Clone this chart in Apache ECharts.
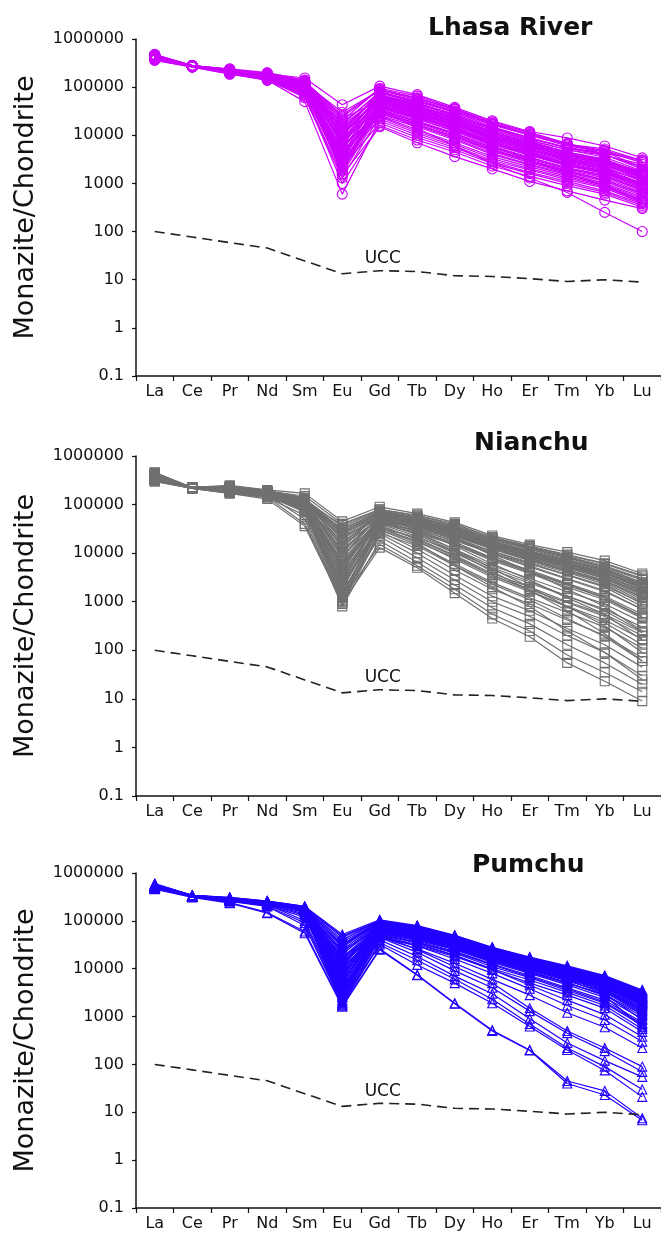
<!DOCTYPE html>
<html>
<head>
<meta charset="utf-8">
<script src="https://cdn.jsdelivr.net/npm/echarts@6/dist/echarts.min.js"></script>
<style>
  html, body { margin: 0; padding: 0; background: #fff; }
  #chart { width: 661px; height: 1233px; }
</style>
</head>
<body>
<div id="chart"></div>
<script>
// Rare earth elements, chondrite-normalised
const elements = ['La', 'Ce', 'Pr', 'Nd', 'Sm', 'Eu', 'Gd', 'Tb', 'Dy', 'Ho', 'Er', 'Tm', 'Yb', 'Lu'];
const yTickLabels = ['0.1', '1', '10', '100', '1000', '10000', '100000', '1000000'];
const panelTitles = ['Lhasa River', 'Nianchu', 'Pumchu'];
const yAxisName = 'Monazite/Chondrite';

// Upper continental crust reference pattern
const ucc = [100, 77, 59, 45.5, 24.5, 13.3, 15.4, 14.8, 12.1, 11.7, 10.5, 9.2, 10, 8.9];
const uccLabel = 'UCC';

// Detrital monazite grains, Lhasa River
const lhasaRiver = [
  [4.5e5, 2.8e5, 2.3e5, 1.9e5, 1.55e5, 4.3e4, 1.05e5, 7.0e4, 3.8e4, 2.0e4, 1.2e4, 8.8e3, 6.0e3, 3.4e3],
  [4.2e5, 2.7e5, 2.2e5, 1.8e5, 1.3e5, 2.6e4, 9.0e4, 6.0e4, 3.5e4, 1.8e4, 1.1e4, 6.5e3, 5.2e3, 3.0e3],
  [4.0e5, 2.7e5, 2.1e5, 1.7e5, 1.2e5, 3.0e4, 8.5e4, 5.5e4, 3.2e4, 1.7e4, 1.0e4, 6.0e3, 4.5e3, 2.2e3],
  [4.8e5, 2.8e5, 2.4e5, 2.0e5, 1.4e5, 1.2e4, 8.0e4, 5.0e4, 3.0e4, 1.5e4, 9.0e3, 5.5e3, 4.0e3, 2.0e3],
  [3.8e5, 2.7e5, 2.0e5, 1.6e5, 1.1e5, 8.0e3, 7.0e4, 4.5e4, 2.8e4, 1.4e4, 8.0e3, 5.0e3, 3.5e3, 1.8e3],
  [4.4e5, 2.75e5, 2.2e5, 1.75e5, 1.25e5, 1.8e4, 7.5e4, 4.8e4, 2.6e4, 1.3e4, 7.5e3, 4.5e3, 3.2e3, 1.6e3],
  [4.6e5, 2.8e5, 2.3e5, 1.85e5, 1.35e5, 6.0e3, 6.5e4, 4.2e4, 2.4e4, 1.2e4, 7.0e3, 4.2e3, 3.0e3, 1.5e3],
  [3.9e5, 2.7e5, 2.1e5, 1.6e5, 1.0e5, 4.0e3, 6.0e4, 3.8e4, 2.2e4, 1.1e4, 6.5e3, 4.0e3, 2.8e3, 1.4e3],
  [4.1e5, 2.7e5, 2.15e5, 1.65e5, 1.15e5, 1.0e4, 5.8e4, 3.6e4, 2.0e4, 1.0e4, 6.0e3, 3.6e3, 2.6e3, 1.3e3],
  [4.3e5, 2.75e5, 2.25e5, 1.8e5, 1.2e5, 3.0e3, 5.5e4, 3.4e4, 1.9e4, 9.5e3, 5.5e3, 3.4e3, 2.4e3, 1.2e3],
  [3.7e5, 2.65e5, 1.9e5, 1.5e5, 9.0e4, 5.0e3, 5.0e4, 3.2e4, 1.8e4, 9.0e3, 5.2e3, 3.2e3, 2.2e3, 1.1e3],
  [4.7e5, 2.8e5, 2.35e5, 1.9e5, 1.3e5, 2.2e4, 5.2e4, 3.0e4, 1.7e4, 8.5e3, 5.0e3, 3.0e3, 2.0e3, 1.0e3],
  [4.0e5, 2.7e5, 2.05e5, 1.55e5, 8.0e4, 2.5e3, 4.8e4, 2.8e4, 1.6e4, 8.0e3, 4.6e3, 2.8e3, 1.9e3, 950],
  [4.2e5, 2.7e5, 2.15e5, 1.7e5, 1.1e5, 1.5e4, 4.5e4, 2.6e4, 1.5e4, 7.5e3, 4.3e3, 2.6e3, 1.8e3, 900],
  [3.6e5, 2.6e5, 1.85e5, 1.4e5, 7.0e4, 2.0e3, 4.2e4, 2.5e4, 1.4e4, 7.0e3, 4.0e3, 2.4e3, 1.7e3, 850],
  [4.5e5, 2.8e5, 2.25e5, 1.75e5, 1.15e5, 7.0e3, 4.0e4, 2.4e4, 1.3e4, 6.5e3, 3.8e3, 2.3e3, 1.6e3, 800],
  [4.1e5, 2.7e5, 2.1e5, 1.6e5, 9.5e4, 3.5e3, 3.8e4, 2.2e4, 1.2e4, 6.0e3, 3.5e3, 2.1e3, 1.5e3, 750],
  [3.8e5, 2.65e5, 2.0e5, 1.5e5, 8.5e4, 1.2e4, 3.5e4, 2.0e4, 1.1e4, 5.5e3, 3.2e3, 2.0e3, 1.4e3, 700],
  [4.4e5, 2.75e5, 2.2e5, 1.7e5, 1.05e5, 5.5e3, 3.3e4, 1.9e4, 1.05e4, 5.2e3, 3.0e3, 1.9e3, 1.3e3, 650],
  [4.0e5, 2.7e5, 2.0e5, 1.55e5, 9.0e4, 1.6e3, 3.0e4, 1.8e4, 1.0e4, 5.0e3, 2.9e3, 1.8e3, 1.2e3, 600],
  [4.6e5, 2.8e5, 2.3e5, 1.8e5, 1.2e5, 9.0e3, 3.2e4, 1.7e4, 9.0e3, 4.6e3, 2.7e3, 1.7e3, 1.1e3, 560],
  [3.9e5, 2.7e5, 2.0e5, 1.5e5, 7.5e4, 2.8e3, 2.8e4, 1.6e4, 8.5e3, 4.2e3, 2.5e3, 1.6e3, 1.0e3, 520],
  [4.3e5, 2.7e5, 2.1e5, 1.65e5, 1.0e5, 4.5e3, 2.6e4, 1.5e4, 8.0e3, 4.0e3, 2.4e3, 1.5e3, 950, 480],
  [3.7e5, 2.65e5, 1.95e5, 1.45e5, 6.0e4, 1.3e3, 2.5e4, 1.3e4, 7.0e3, 3.6e3, 2.2e3, 1.4e3, 900, 450],
  [4.5e5, 2.8e5, 2.2e5, 1.7e5, 1.1e5, 6.5e3, 2.4e4, 1.2e4, 6.5e3, 3.3e3, 2.0e3, 1.3e3, 850, 420],
  [4.1e5, 2.7e5, 2.1e5, 1.6e5, 9.0e4, 3.2e3, 2.2e4, 1.1e4, 6.0e3, 3.0e3, 1.9e3, 1.2e3, 800, 400],
  [3.8e5, 2.65e5, 1.9e5, 1.4e5, 5.0e4, 600, 2.0e4, 1.0e4, 5.5e3, 2.8e3, 1.7e3, 1.1e3, 700, 380],
  [4.2e5, 2.7e5, 2.1e5, 1.55e5, 8.0e4, 2.2e3, 1.8e4, 9.0e3, 5.0e3, 2.6e3, 1.6e3, 1.0e3, 650, 350],
  [4.0e5, 2.7e5, 2.0e5, 1.5e5, 7.0e4, 1.0e3, 1.6e4, 8.0e3, 4.5e3, 2.3e3, 1.4e3, 900, 600, 320],
  [3.9e5, 2.7e5, 1.95e5, 1.4e5, 6.5e4, 1.5e3, 1.5e4, 7.0e3, 3.6e3, 2.0e3, 1.1e3, 700, 450, 300],
  [4.4e5, 2.75e5, 2.2e5, 1.7e5, 1.1e5, 1.1e4, 6.0e4, 3.0e4, 1.5e4, 6.0e3, 3.0e3, 1.6e3, 900, 420],
  [4.2e5, 2.75e5, 2.15e5, 1.65e5, 1.0e5, 1.8e3, 3.5e4, 1.4e4, 6.0e3, 2.6e3, 1.3e3, 650, 250, 100],
  [4.6e5, 2.8e5, 2.3e5, 1.9e5, 1.3e5, 2.0e4, 9.5e4, 6.5e4, 3.6e4, 1.9e4, 1.15e4, 6.8e3, 4.0e3, 2.0e3],
  [4.3e5, 2.75e5, 2.2e5, 1.75e5, 1.2e5, 1.4e4, 7.0e4, 4.0e4, 2.4e4, 1.3e4, 7.8e3, 5.0e3, 3.8e3, 2.5e3],
  [4.0e5, 2.7e5, 2.1e5, 1.6e5, 1.05e5, 3.8e3, 4.5e4, 2.8e4, 1.7e4, 9.0e3, 5.8e3, 3.8e3, 2.9e3, 1.7e3],
  [3.8e5, 2.65e5, 2.0e5, 1.55e5, 9.5e4, 2.4e3, 4.0e4, 2.3e4, 1.4e4, 7.8e3, 4.8e3, 3.2e3, 2.4e3, 1.4e3],
  [4.5e5, 2.8e5, 2.25e5, 1.8e5, 1.25e5, 1.7e4, 8.0e4, 4.6e4, 2.5e4, 1.4e4, 8.5e3, 5.6e3, 4.2e3, 3.1e3],
  [4.1e5, 2.7e5, 2.15e5, 1.65e5, 1.05e5, 7.5e3, 5.5e4, 2.6e4, 1.3e4, 7.0e3, 4.5e3, 2.9e3, 2.0e3, 1.2e3],
  [4.3e5, 2.7e5, 2.2e5, 1.7e5, 1.15e5, 5.0e3, 6.2e4, 4.0e4, 2.3e4, 1.2e4, 7.2e3, 4.4e3, 3.1e3, 1.7e3],
  [4.0e5, 2.7e5, 2.05e5, 1.6e5, 1.0e5, 3.0e3, 5.0e4, 3.1e4, 1.85e4, 9.5e3, 5.8e3, 3.6e3, 2.5e3, 1.45e3],
  [4.6e5, 2.8e5, 2.3e5, 1.85e5, 1.3e5, 9.5e3, 6.8e4, 4.4e4, 2.7e4, 1.45e4, 8.8e3, 5.4e3, 3.9e3, 2.2e3],
  [3.9e5, 2.65e5, 2.0e5, 1.55e5, 9.0e4, 2.0e3, 4.4e4, 2.7e4, 1.6e4, 8.3e3, 5.0e3, 3.1e3, 2.1e3, 1.15e3],
  [4.4e5, 2.75e5, 2.2e5, 1.75e5, 1.2e5, 6.8e3, 5.6e4, 3.5e4, 2.05e4, 1.05e4, 6.3e3, 3.9e3, 2.7e3, 1.5e3],
  [4.2e5, 2.7e5, 2.15e5, 1.65e5, 1.1e5, 4.2e3, 3.7e4, 2.15e4, 1.25e4, 6.4e3, 3.9e3, 2.4e3, 1.65e3, 880],
  [3.8e5, 2.65e5, 1.95e5, 1.5e5, 8.5e4, 2.7e3, 3.4e4, 1.9e4, 1.1e4, 5.6e3, 3.4e3, 2.1e3, 1.4e3, 760],
  [4.5e5, 2.8e5, 2.25e5, 1.8e5, 1.25e5, 1.1e4, 7.8e4, 5.2e4, 3.1e4, 1.65e4, 1.0e4, 6.3e3, 4.6e3, 2.7e3],
  [4.1e5, 2.7e5, 2.1e5, 1.6e5, 1.05e5, 1.35e4, 6.6e4, 3.9e4, 2.2e4, 1.15e4, 6.8e3, 4.1e3, 2.8e3, 1.55e3],
  [4.3e5, 2.75e5, 2.2e5, 1.7e5, 1.15e5, 3.4e3, 4.7e4, 2.9e4, 1.75e4, 9.0e3, 5.4e3, 3.3e3, 2.3e3, 1.3e3],
  [3.9e5, 2.7e5, 2.0e5, 1.55e5, 9.5e4, 1.9e3, 3.9e4, 2.3e4, 1.35e4, 6.9e3, 4.1e3, 2.5e3, 1.7e3, 950],
  [4.7e5, 2.8e5, 2.35e5, 1.9e5, 1.35e5, 2.4e4, 8.8e4, 5.8e4, 3.4e4, 1.75e4, 1.05e4, 6.6e3, 4.8e3, 2.9e3],
  [4.0e5, 2.7e5, 2.05e5, 1.6e5, 1.0e5, 8.5e3, 5.3e4, 3.3e4, 1.95e4, 1.0e4, 6.1e3, 3.8e3, 2.7e3, 1.6e3],
  [4.4e5, 2.75e5, 2.2e5, 1.75e5, 1.15e5, 1.6e4, 6.3e4, 3.7e4, 2.1e4, 1.1e4, 6.6e3, 4.0e3, 2.9e3, 1.75e3],
  [4.2e5, 2.7e5, 2.15e5, 1.65e5, 1.05e5, 2.9e3, 2.9e4, 1.65e4, 9.5e3, 4.8e3, 2.9e3, 1.8e3, 1.15e3, 620],
  [3.7e5, 2.65e5, 1.9e5, 1.45e5, 8.0e4, 2.3e3, 4.1e4, 2.4e4, 1.45e4, 7.3e3, 4.3e3, 2.6e3, 1.8e3, 1.0e3]
];

// Detrital monazite grains, Nianchu
const nianchu = [
  [4.4e5, 2.25e5, 2.5e5, 2.0e5, 1.7e5, 4.5e4, 9.0e4, 6.5e4, 4.3e4, 2.3e4, 1.5e4, 1.05e4, 7.0e3, 3.8e3],
  [4.0e5, 2.2e5, 2.3e5, 1.9e5, 1.5e5, 4.0e4, 8.0e4, 6.0e4, 4.0e4, 2.1e4, 1.35e4, 9.0e3, 6.0e3, 3.3e3],
  [3.8e5, 2.2e5, 2.1e5, 1.8e5, 1.3e5, 3.5e4, 7.5e4, 5.5e4, 3.6e4, 2.0e4, 1.25e4, 8.0e3, 5.0e3, 2.8e3],
  [4.2e5, 2.25e5, 2.2e5, 1.85e5, 1.25e5, 2.8e4, 7.0e4, 5.2e4, 3.4e4, 1.9e4, 1.2e4, 7.5e3, 4.8e3, 2.5e3],
  [3.5e5, 2.2e5, 2.0e5, 1.7e5, 1.2e5, 2.2e4, 6.5e4, 5.0e4, 3.2e4, 1.8e4, 1.1e4, 7.0e3, 4.5e3, 2.2e3],
  [3.3e5, 2.2e5, 1.9e5, 1.6e5, 1.1e5, 1.7e4, 6.0e4, 4.6e4, 3.0e4, 1.7e4, 1.05e4, 6.5e3, 4.0e3, 2.0e3],
  [4.6e5, 2.25e5, 2.4e5, 1.95e5, 1.4e5, 1.3e4, 7.0e4, 5.0e4, 3.0e4, 1.6e4, 1.0e4, 6.2e3, 3.8e3, 1.8e3],
  [3.9e5, 2.2e5, 2.1e5, 1.75e5, 1.2e5, 1.0e4, 6.0e4, 4.4e4, 2.8e4, 1.5e4, 9.0e3, 5.8e3, 3.6e3, 1.6e3],
  [3.6e5, 2.2e5, 2.0e5, 1.6e5, 1.05e5, 7.0e3, 5.5e4, 4.2e4, 2.6e4, 1.45e4, 8.5e3, 5.2e3, 3.2e3, 1.5e3],
  [3.2e5, 2.15e5, 1.8e5, 1.5e5, 1.0e5, 5.0e3, 5.0e4, 4.0e4, 2.5e4, 1.4e4, 8.0e3, 5.0e3, 3.0e3, 1.3e3],
  [4.1e5, 2.25e5, 2.2e5, 1.8e5, 1.15e5, 3.5e3, 5.5e4, 3.8e4, 2.4e4, 1.3e4, 7.5e3, 4.5e3, 2.8e3, 1.2e3],
  [3.7e5, 2.2e5, 2.0e5, 1.65e5, 1.0e5, 2.5e3, 5.0e4, 3.6e4, 2.2e4, 1.2e4, 7.0e3, 4.2e3, 2.5e3, 1.0e3],
  [3.4e5, 2.2e5, 1.9e5, 1.55e5, 9.0e4, 1.8e3, 4.5e4, 3.3e4, 2.0e4, 1.1e4, 6.5e3, 4.0e3, 2.3e3, 900],
  [3.0e5, 2.15e5, 1.7e5, 1.4e5, 8.0e4, 1.2e3, 4.0e4, 3.0e4, 1.8e4, 1.0e4, 6.0e3, 3.5e3, 2.0e3, 800],
  [4.3e5, 2.25e5, 2.3e5, 1.9e5, 1.3e5, 8.5e3, 6.5e4, 4.5e4, 2.9e4, 1.6e4, 9.5e3, 6.0e3, 3.5e3, 1.7e3],
  [3.8e5, 2.2e5, 2.1e5, 1.7e5, 1.1e5, 2.0e4, 5.5e4, 3.5e4, 2.0e4, 1.0e4, 5.5e3, 3.0e3, 1.7e3, 700],
  [3.5e5, 2.2e5, 2.0e5, 1.6e5, 9.5e4, 1.5e4, 5.0e4, 3.2e4, 1.7e4, 8.0e3, 4.5e3, 2.4e3, 1.3e3, 550],
  [4.0e5, 2.2e5, 2.15e5, 1.75e5, 1.1e5, 9.0e3, 4.5e4, 2.8e4, 1.5e4, 7.0e3, 3.8e3, 2.0e3, 1.1e3, 450],
  [3.6e5, 2.2e5, 2.0e5, 1.6e5, 9.0e4, 6.0e3, 4.2e4, 2.5e4, 1.2e4, 5.5e3, 3.0e3, 1.6e3, 900, 380],
  [3.3e5, 2.2e5, 1.85e5, 1.5e5, 8.5e4, 4.0e3, 4.0e4, 2.2e4, 1.0e4, 4.5e3, 2.4e3, 1.3e3, 700, 300],
  [4.2e5, 2.25e5, 2.2e5, 1.8e5, 1.0e5, 3.0e3, 3.5e4, 2.0e4, 9.0e3, 3.8e3, 2.0e3, 1.0e3, 550, 230],
  [3.9e5, 2.2e5, 2.1e5, 1.7e5, 9.0e4, 2.2e3, 3.2e4, 1.8e4, 7.5e3, 3.2e3, 1.6e3, 800, 420, 170],
  [3.7e5, 2.2e5, 2.0e5, 1.6e5, 8.0e4, 1.5e3, 3.0e4, 1.5e4, 6.0e3, 2.5e3, 1.2e3, 600, 300, 110],
  [3.4e5, 2.2e5, 1.9e5, 1.5e5, 7.0e4, 1.0e3, 2.8e4, 1.2e4, 4.5e3, 1.8e3, 900, 420, 200, 70],
  [3.1e5, 2.15e5, 1.75e5, 1.4e5, 6.0e4, 900, 2.5e4, 1.0e4, 3.5e3, 1.3e3, 650, 280, 130, 45],
  [4.0e5, 2.2e5, 2.1e5, 1.7e5, 7.5e4, 1.3e3, 2.2e4, 8.0e3, 2.8e3, 1.0e3, 500, 200, 90, 30],
  [3.6e5, 2.2e5, 2.0e5, 1.6e5, 5.0e4, 800, 1.8e4, 6.5e3, 2.2e3, 750, 350, 130, 55, 20],
  [3.2e5, 2.2e5, 1.8e5, 1.45e5, 4.0e4, 1.1e3, 1.5e4, 5.5e3, 1.8e3, 550, 250, 80, 35, 14],
  [3.0e5, 2.15e5, 1.7e5, 1.3e5, 3.6e4, 950, 1.3e4, 5.0e3, 1.5e3, 450, 190, 55, 23, 9],
  [4.1e5, 2.25e5, 2.2e5, 1.75e5, 1.2e5, 2.6e4, 6.0e4, 3.8e4, 2.1e4, 9.0e3, 4.2e3, 1.8e3, 800, 250],
  [3.8e5, 2.2e5, 2.1e5, 1.7e5, 1.05e5, 1.2e4, 5.2e4, 3.0e4, 1.4e4, 6.0e3, 2.8e3, 1.2e3, 550, 160],
  [3.5e5, 2.2e5, 2.0e5, 1.6e5, 9.5e4, 5.5e3, 4.8e4, 2.7e4, 1.2e4, 4.8e3, 2.0e3, 800, 320, 90],
  [3.9e5, 2.2e5, 2.15e5, 1.7e5, 1.1e5, 3.2e4, 7.0e4, 5.5e4, 3.5e4, 2.0e4, 1.3e4, 8.5e3, 5.5e3, 3.0e3],
  [4.3e5, 2.25e5, 2.25e5, 1.85e5, 1.3e5, 2.4e4, 6.8e4, 4.8e4, 3.2e4, 1.75e4, 1.1e4, 7.2e3, 4.6e3, 2.4e3],
  [3.7e5, 2.2e5, 2.05e5, 1.65e5, 1.15e5, 1.6e4, 5.8e4, 4.2e4, 2.7e4, 1.5e4, 9.5e3, 6.0e3, 3.8e3, 2.0e3],
  [3.3e5, 2.2e5, 1.9e5, 1.55e5, 1.0e5, 6.5e3, 5.0e4, 3.8e4, 2.4e4, 1.35e4, 8.5e3, 5.3e3, 3.4e3, 1.6e3],
  [4.5e5, 2.25e5, 2.35e5, 1.9e5, 1.35e5, 4.2e3, 6.0e4, 4.4e4, 2.8e4, 1.5e4, 9.0e3, 5.5e3, 3.2e3, 1.4e3],
  [3.6e5, 2.2e5, 2.0e5, 1.65e5, 1.1e5, 2.8e3, 5.3e4, 3.6e4, 2.2e4, 1.25e4, 7.5e3, 4.6e3, 2.7e3, 1.1e3],
  [4.0e5, 2.2e5, 2.1e5, 1.7e5, 9.5e4, 1.4e3, 4.2e4, 2.6e4, 1.5e4, 7.5e3, 4.0e3, 2.2e3, 1.2e3, 500],
  [3.4e5, 2.2e5, 1.9e5, 1.55e5, 8.5e4, 1.9e3, 3.8e4, 1.9e4, 8.5e3, 3.5e3, 1.8e3, 950, 500, 200],
  [3.8e5, 2.2e5, 2.1e5, 1.7e5, 1.0e5, 3.8e3, 4.4e4, 2.4e4, 1.1e4, 4.2e3, 1.7e3, 650, 220, 60],
  [3.5e5, 2.2e5, 2.0e5, 1.6e5, 8.0e4, 2.4e3, 3.6e4, 1.6e4, 5.5e3, 2.0e3, 800, 250, 90, 25],
  [4.1e5, 2.2e5, 2.2e5, 1.8e5, 1.2e5, 1.9e4, 6.3e4, 4.7e4, 3.1e4, 1.7e4, 1.08e4, 6.8e3, 4.3e3, 2.3e3],
  [3.6e5, 2.2e5, 2.0e5, 1.65e5, 1.1e5, 1.1e4, 5.7e4, 4.3e4, 2.8e4, 1.55e4, 9.8e3, 6.2e3, 3.9e3, 1.9e3],
  [3.9e5, 2.2e5, 2.1e5, 1.7e5, 1.15e5, 8.0e3, 6.2e4, 4.6e4, 2.95e4, 1.65e4, 1.02e4, 6.4e3, 4.1e3, 2.1e3],
  [4.4e5, 2.25e5, 2.3e5, 1.9e5, 1.3e5, 3.0e4, 7.3e4, 5.4e4, 3.5e4, 1.95e4, 1.25e4, 8.2e3, 5.2e3, 2.9e3],
  [3.5e5, 2.2e5, 1.95e5, 1.6e5, 1.0e5, 4.6e3, 5.2e4, 3.9e4, 2.5e4, 1.4e4, 8.8e3, 5.5e3, 3.5e3, 1.7e3],
  [3.2e5, 2.15e5, 1.8e5, 1.5e5, 9.5e4, 3.2e3, 4.8e4, 3.5e4, 2.3e4, 1.28e4, 7.8e3, 4.9e3, 3.0e3, 1.45e3],
  [4.0e5, 2.2e5, 2.15e5, 1.75e5, 1.2e5, 2.1e4, 5.6e4, 3.9e4, 2.4e4, 1.25e4, 7.2e3, 4.3e3, 2.6e3, 1.25e3],
  [3.7e5, 2.2e5, 2.0e5, 1.65e5, 1.05e5, 1.4e4, 5.2e4, 3.6e4, 2.1e4, 1.08e4, 6.2e3, 3.6e3, 2.1e3, 950],
  [4.2e5, 2.25e5, 2.2e5, 1.8e5, 1.1e5, 6.0e3, 4.9e4, 3.3e4, 1.9e4, 9.5e3, 5.2e3, 2.9e3, 1.6e3, 700],
  [3.4e5, 2.2e5, 1.9e5, 1.55e5, 9.0e4, 2.0e3, 4.4e4, 2.9e4, 1.6e4, 7.8e3, 4.2e3, 2.3e3, 1.2e3, 480],
  [3.8e5, 2.2e5, 2.1e5, 1.7e5, 1.0e5, 1.05e3, 3.4e4, 2.1e4, 1.1e4, 5.0e3, 2.6e3, 1.3e3, 650, 240],
  [3.6e5, 2.2e5, 2.0e5, 1.6e5, 8.5e4, 1.6e3, 3.0e4, 1.7e4, 8.0e3, 3.5e3, 1.7e3, 780, 370, 130],
  [4.0e5, 2.2e5, 2.15e5, 1.75e5, 1.15e5, 3.8e4, 7.8e4, 5.9e4, 3.8e4, 2.15e4, 1.4e4, 9.3e3, 6.2e3, 3.5e3],
  [3.5e5, 2.2e5, 1.95e5, 1.6e5, 1.05e5, 2.7e4, 6.6e4, 4.9e4, 3.15e4, 1.75e4, 1.1e4, 7.0e3, 4.4e3, 2.2e3],
  [3.3e5, 2.2e5, 1.85e5, 1.5e5, 7.5e4, 1.2e3, 2.6e4, 1.4e4, 5.5e3, 2.3e3, 1.1e3, 450, 190, 60]
];

// Detrital monazite grains, Pumchu
const pumchu = [
  [6.0e5, 3.4e5, 3.1e5, 2.6e5, 2.0e5, 5.2e4, 1.05e5, 8.0e4, 5.0e4, 2.8e4, 1.75e4, 1.15e4, 7.2e3, 3.6e3],
  [5.6e5, 3.3e5, 3.0e5, 2.5e5, 1.9e5, 4.0e4, 1.0e5, 7.5e4, 4.8e4, 2.7e4, 1.65e4, 1.05e4, 6.8e3, 3.3e3],
  [5.3e5, 3.3e5, 2.9e5, 2.45e5, 1.8e5, 3.2e4, 9.5e4, 7.0e4, 4.5e4, 2.5e4, 1.55e4, 1.0e4, 6.3e3, 3.0e3],
  [5.0e5, 3.2e5, 2.8e5, 2.4e5, 1.7e5, 2.5e4, 9.0e4, 6.5e4, 4.2e4, 2.4e4, 1.45e4, 9.2e3, 5.8e3, 2.7e3],
  [5.5e5, 3.3e5, 2.95e5, 2.5e5, 1.85e5, 2.0e4, 8.5e4, 6.2e4, 4.0e4, 2.2e4, 1.35e4, 8.5e3, 5.4e3, 2.4e3],
  [5.8e5, 3.4e5, 3.0e5, 2.55e5, 1.95e5, 1.5e4, 8.0e4, 6.0e4, 3.8e4, 2.1e4, 1.3e4, 8.0e3, 5.0e3, 2.2e3],
  [5.2e5, 3.3e5, 2.85e5, 2.4e5, 1.75e5, 1.2e4, 7.5e4, 5.6e4, 3.6e4, 2.0e4, 1.2e4, 7.5e3, 4.6e3, 2.0e3],
  [4.9e5, 3.2e5, 2.75e5, 2.3e5, 1.6e5, 9.0e3, 7.0e4, 5.2e4, 3.4e4, 1.9e4, 1.15e4, 7.0e3, 4.2e3, 1.8e3],
  [5.4e5, 3.3e5, 2.9e5, 2.45e5, 1.8e5, 7.0e3, 7.5e4, 5.5e4, 3.5e4, 1.95e4, 1.2e4, 7.2e3, 4.4e3, 1.9e3],
  [5.7e5, 3.4e5, 3.0e5, 2.5e5, 1.9e5, 5.5e3, 8.0e4, 5.8e4, 3.7e4, 2.0e4, 1.25e4, 7.8e3, 4.8e3, 2.1e3],
  [5.1e5, 3.3e5, 2.8e5, 2.35e5, 1.7e5, 4.5e3, 7.0e4, 5.0e4, 3.2e4, 1.8e4, 1.1e4, 6.6e3, 3.9e3, 1.6e3],
  [4.8e5, 3.2e5, 2.7e5, 2.3e5, 1.6e5, 3.5e3, 6.5e4, 4.6e4, 3.0e4, 1.7e4, 1.0e4, 6.0e3, 3.5e3, 1.4e3],
  [5.5e5, 3.3e5, 2.95e5, 2.5e5, 1.85e5, 2.8e3, 6.8e4, 4.8e4, 3.1e4, 1.75e4, 1.05e4, 6.3e3, 3.7e3, 1.5e3],
  [5.3e5, 3.3e5, 2.9e5, 2.4e5, 1.75e5, 2.2e3, 6.0e4, 4.4e4, 2.8e4, 1.6e4, 9.5e3, 5.6e3, 3.2e3, 1.2e3],
  [5.0e5, 3.2e5, 2.8e5, 2.35e5, 1.65e5, 1.8e4, 6.2e4, 4.2e4, 2.6e4, 1.45e4, 8.5e3, 5.0e3, 2.8e3, 1.0e3],
  [5.6e5, 3.3e5, 2.95e5, 2.5e5, 1.8e5, 1.3e4, 5.8e4, 4.0e4, 2.5e4, 1.35e4, 8.0e3, 4.6e3, 2.5e3, 900],
  [5.2e5, 3.3e5, 2.85e5, 2.4e5, 1.7e5, 1.0e4, 5.5e4, 3.8e4, 2.3e4, 1.25e4, 7.2e3, 4.0e3, 2.2e3, 750],
  [4.9e5, 3.2e5, 2.75e5, 2.3e5, 1.55e5, 8.0e3, 5.0e4, 3.5e4, 2.1e4, 1.1e4, 6.5e3, 3.5e3, 1.9e3, 650],
  [5.4e5, 3.3e5, 2.9e5, 2.45e5, 1.75e5, 6.0e3, 5.2e4, 3.6e4, 2.2e4, 1.2e4, 6.8e3, 3.8e3, 2.0e3, 700],
  [5.1e5, 3.3e5, 2.8e5, 2.35e5, 1.6e5, 4.0e3, 4.8e4, 3.2e4, 1.9e4, 1.0e4, 5.8e3, 3.2e3, 1.7e3, 550],
  [4.7e5, 3.2e5, 2.7e5, 2.25e5, 1.5e5, 3.0e3, 4.5e4, 3.0e4, 1.8e4, 9.5e3, 5.0e3, 2.8e3, 1.5e3, 480],
  [5.3e5, 3.3e5, 2.9e5, 2.4e5, 1.7e5, 2.5e3, 5.5e4, 3.4e4, 1.9e4, 9.5e3, 4.5e3, 2.2e3, 1.1e3, 380],
  [5.0e5, 3.2e5, 2.8e5, 2.3e5, 1.55e5, 1.9e3, 5.0e4, 3.0e4, 1.6e4, 8.0e3, 3.8e3, 1.7e3, 850, 300],
  [4.8e5, 3.2e5, 2.7e5, 2.2e5, 1.4e5, 1.7e3, 4.5e4, 2.6e4, 1.3e4, 6.0e3, 2.8e3, 1.2e3, 600, 220],
  [5.1e5, 3.2e5, 2.7e5, 2.2e5, 1.3e5, 3.5e3, 5.0e4, 2.5e4, 1.1e4, 5.0e3, 1.5e3, 500, 220, 90],
  [4.9e5, 3.2e5, 2.65e5, 2.1e5, 1.2e5, 2.6e3, 4.5e4, 2.2e4, 9.0e3, 4.0e3, 1.3e3, 450, 190, 70],
  [5.2e5, 3.25e5, 2.7e5, 2.2e5, 1.0e5, 2.2e3, 4.0e4, 1.8e4, 7.0e3, 3.0e3, 900, 280, 120, 55],
  [4.8e5, 3.2e5, 2.6e5, 2.05e5, 9.0e4, 1.9e3, 3.5e4, 1.5e4, 6.0e3, 2.3e3, 700, 220, 90, 30],
  [5.0e5, 3.2e5, 2.55e5, 2.0e5, 8.0e4, 1.8e3, 3.2e4, 1.2e4, 5.0e3, 1.9e3, 620, 200, 75, 21],
  [4.7e5, 3.2e5, 2.4e5, 1.5e5, 6.0e4, 1.7e3, 2.6e4, 7.5e3, 1.9e3, 520, 200, 45, 28, 7.5],
  [4.6e5, 3.1e5, 2.35e5, 1.45e5, 5.5e4, 1.6e3, 2.5e4, 7.3e3, 1.85e3, 500, 195, 40, 23, 6.8],
  [5.9e5, 3.4e5, 3.05e5, 2.6e5, 2.0e5, 4.5e4, 1.0e5, 7.8e4, 4.9e4, 2.75e4, 1.7e4, 1.1e4, 7.0e3, 3.5e3],
  [5.5e5, 3.3e5, 2.95e5, 2.5e5, 1.9e5, 3.6e4, 9.6e4, 7.2e4, 4.6e4, 2.6e4, 1.6e4, 1.02e4, 6.5e3, 3.1e3],
  [5.2e5, 3.3e5, 2.9e5, 2.45e5, 1.85e5, 2.8e4, 9.2e4, 6.8e4, 4.4e4, 2.45e4, 1.5e4, 9.5e3, 6.0e3, 2.8e3],
  [5.4e5, 3.3e5, 2.9e5, 2.45e5, 1.8e5, 1.1e4, 8.7e4, 6.4e4, 4.1e4, 2.3e4, 1.4e4, 8.8e3, 5.6e3, 2.6e3],
  [5.0e5, 3.2e5, 2.8e5, 2.4e5, 1.75e5, 6.5e3, 8.2e4, 6.0e4, 3.9e4, 2.15e4, 1.3e4, 8.2e3, 5.2e3, 2.3e3],
  [5.6e5, 3.3e5, 2.95e5, 2.5e5, 1.85e5, 5.0e3, 7.8e4, 5.7e4, 3.6e4, 2.05e4, 1.25e4, 7.6e3, 4.7e3, 2.0e3],
  [5.3e5, 3.3e5, 2.9e5, 2.45e5, 1.8e5, 3.0e3, 7.2e4, 5.3e4, 3.4e4, 1.9e4, 1.15e4, 6.9e3, 4.1e3, 1.7e3],
  [4.9e5, 3.2e5, 2.8e5, 2.35e5, 1.7e5, 2.0e3, 6.6e4, 4.9e4, 3.1e4, 1.75e4, 1.05e4, 6.2e3, 3.6e3, 1.3e3],
  [5.1e5, 3.3e5, 2.85e5, 2.4e5, 1.75e5, 2.4e4, 7.0e4, 5.0e4, 3.2e4, 1.8e4, 1.1e4, 6.5e3, 3.4e3, 1.1e3],
  [5.5e5, 3.3e5, 2.9e5, 2.45e5, 1.8e5, 1.6e4, 6.6e4, 4.7e4, 3.0e4, 1.65e4, 9.8e3, 5.8e3, 3.0e3, 850],
  [5.0e5, 3.2e5, 2.8e5, 2.35e5, 1.65e5, 8.5e3, 6.2e4, 4.4e4, 2.7e4, 1.5e4, 8.8e3, 5.2e3, 2.7e3, 600],
  [5.7e5, 3.4e5, 3.0e5, 2.55e5, 1.95e5, 4.8e4, 1.0e5, 7.7e4, 4.85e4, 2.7e4, 1.68e4, 1.1e4, 6.9e3, 3.4e3],
  [5.4e5, 3.3e5, 2.95e5, 2.5e5, 1.85e5, 3.0e4, 9.3e4, 6.9e4, 4.4e4, 2.5e4, 1.52e4, 9.7e3, 6.1e3, 2.9e3],
  [5.2e5, 3.3e5, 2.9e5, 2.45e5, 1.8e5, 2.2e4, 8.8e4, 6.5e4, 4.2e4, 2.35e4, 1.45e4, 9.1e3, 5.8e3, 2.6e3],
  [5.5e5, 3.3e5, 2.95e5, 2.5e5, 1.85e5, 1.7e4, 8.4e4, 6.2e4, 3.95e4, 2.2e4, 1.35e4, 8.5e3, 5.4e3, 2.5e3],
  [5.0e5, 3.2e5, 2.8e5, 2.4e5, 1.75e5, 1.35e4, 7.9e4, 5.8e4, 3.75e4, 2.1e4, 1.28e4, 8.0e3, 5.0e3, 2.3e3],
  [5.6e5, 3.3e5, 2.95e5, 2.5e5, 1.85e5, 9.5e3, 7.6e4, 5.6e4, 3.6e4, 2.0e4, 1.22e4, 7.6e3, 4.8e3, 2.2e3],
  [5.3e5, 3.3e5, 2.9e5, 2.45e5, 1.8e5, 7.5e3, 7.3e4, 5.4e4, 3.5e4, 1.95e4, 1.18e4, 7.3e3, 4.5e3, 2.0e3],
  [4.9e5, 3.2e5, 2.8e5, 2.35e5, 1.7e5, 5.2e3, 7.0e4, 5.1e4, 3.3e4, 1.85e4, 1.12e4, 6.9e3, 4.2e3, 1.85e3],
  [5.1e5, 3.3e5, 2.85e5, 2.4e5, 1.75e5, 3.8e3, 6.8e4, 4.9e4, 3.15e4, 1.78e4, 1.08e4, 6.6e3, 4.0e3, 1.7e3],
  [5.5e5, 3.3e5, 2.9e5, 2.45e5, 1.8e5, 2.6e3, 6.4e4, 4.6e4, 2.95e4, 1.68e4, 1.0e4, 6.1e3, 3.6e3, 1.5e3],
  [5.2e5, 3.3e5, 2.85e5, 2.4e5, 1.7e5, 1.4e4, 6.0e4, 4.3e4, 2.75e4, 1.55e4, 9.2e3, 5.6e3, 3.3e3, 1.3e3],
  [4.8e5, 3.2e5, 2.75e5, 2.3e5, 1.6e5, 1.1e4, 5.6e4, 4.0e4, 2.55e4, 1.42e4, 8.4e3, 5.0e3, 2.9e3, 1.1e3],
  [5.4e5, 3.3e5, 2.9e5, 2.45e5, 1.75e5, 6.2e3, 8.5e4, 6.3e4, 4.05e4, 2.25e4, 1.38e4, 8.7e3, 5.5e3, 2.5e3],
  [5.0e5, 3.2e5, 2.8e5, 2.35e5, 1.7e5, 4.2e3, 7.6e4, 5.5e4, 3.55e4, 1.98e4, 1.2e4, 7.4e3, 4.5e3, 1.9e3],
  [5.3e5, 3.3e5, 2.9e5, 2.4e5, 1.75e5, 3.2e4, 9.8e4, 7.4e4, 4.7e4, 2.65e4, 1.62e4, 1.04e4, 6.6e3, 3.2e3]
];

const panelData = [lhasaRiver, nianchu, pumchu];

// Panel layout and mark styling
const FONT = 'DejaVu Sans';
const panelLayout = [
  { top: 39,  height: 337, titleLeft: 428, titleTop: 16,  color: '#cc00ff', symbol: 'circle',   symbolSize: 10 },
  { top: 456, height: 340, titleLeft: 474, titleTop: 431, color: '#707070', symbol: 'rect',     symbolSize: 9 },
  { top: 873, height: 335, titleLeft: 472, titleTop: 853, color: '#2200ff', symbol: 'triangle', symbolSize: 9 }
];
const GRID_LEFT = 136;
const GRID_WIDTH = 528;

const grids = [], xAxes = [], yAxes = [], titles = [], series = [];

panelLayout.forEach((p, i) => {
  grids.push({ left: GRID_LEFT, top: p.top, width: GRID_WIDTH, height: p.height, containLabel: false });

  titles.push({
    text: panelTitles[i],
    left: p.titleLeft,
    top: p.titleTop,
    padding: 0,
    textStyle: { fontFamily: FONT, fontWeight: 'bold', fontSize: 25, color: '#111' }
  });

  xAxes.push({
    type: 'category',
    gridIndex: i,
    data: elements,
    boundaryGap: true,
    axisLine: { show: true, lineStyle: { color: '#111', width: 1.5 } },
    axisTick: { show: true, inside: false, length: 5, lineStyle: { color: '#111', width: 1.2 } },
    axisLabel: { show: true, interval: 0, margin: 8, fontFamily: FONT, fontSize: 16, color: '#111' },
    splitLine: { show: false }
  });

  yAxes.push({
    type: 'log',
    logBase: 10,
    gridIndex: i,
    min: 0.1,
    max: 1000000,
    splitNumber: 7,
    name: yAxisName,
    nameLocation: 'middle',
    nameGap: 97,
    nameTextStyle: { fontFamily: FONT, fontSize: 27, color: '#111' },
    axisLine: { show: true, lineStyle: { color: '#111', width: 1.5 } },
    axisTick: { show: true, inside: false, length: 4, lineStyle: { color: '#111', width: 1.2 } },
    axisLabel: {
      margin: 12, fontFamily: FONT, fontSize: 16, color: '#111',
      formatter: v => yTickLabels[Math.round(Math.log10(v)) + 1]
    },
    splitLine: { show: false }
  });

  // One polyline per monazite grain
  panelData[i].forEach(row => {
    series.push({
      type: 'line',
      xAxisIndex: i,
      yAxisIndex: i,
      data: row,
      symbol: p.symbol,
      symbolSize: p.symbolSize,
      showAllSymbol: true,
      lineStyle: { color: p.color, width: 1.2 },
      itemStyle: { color: 'rgba(0,0,0,0)', borderColor: p.color, borderWidth: 1.1 },
      emphasis: { disabled: true },
      silent: true,
      animation: false,
      z: 2
    });
  });

  // UCC reference curve, labelled above Gd
  series.push({
    type: 'line',
    xAxisIndex: i,
    yAxisIndex: i,
    data: ucc.map((v, k) => k === 6
      ? { value: v, label: { show: true, formatter: uccLabel, position: 'top', distance: 3, offset: [3, 0],
          fontFamily: FONT, fontSize: 17, color: '#111' } }
      : v),
    symbol: 'circle',
    symbolSize: 1,
    showAllSymbol: true,
    itemStyle: { color: 'rgba(0,0,0,0)', borderWidth: 0 },
    lineStyle: { color: '#222', width: 1.6, type: [10, 6] },
    emphasis: { disabled: true },
    silent: true,
    animation: false,
    z: 3
  });
});

const chart = echarts.init(document.getElementById('chart'), null, { renderer: 'canvas' });
chart.setOption({
  backgroundColor: '#fff',
  animation: false,
  title: titles,
  grid: grids,
  xAxis: xAxes,
  yAxis: yAxes,
  series: series
});
</script>
</body>
</html>
